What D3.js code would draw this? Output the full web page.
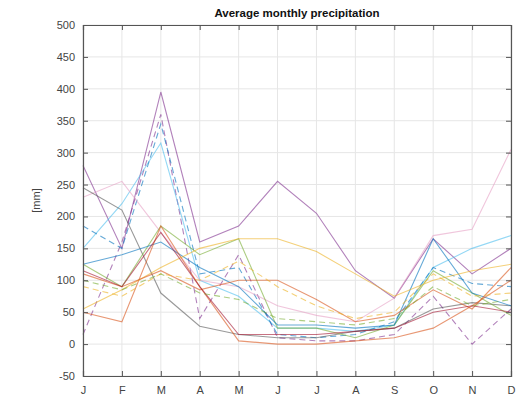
<!DOCTYPE html>
<html>
<head>
<meta charset="utf-8">
<script src="https://cdn.jsdelivr.net/npm/d3@7"></script>
<style>
body { margin: 0; background: #fff; }
svg text { font-family: "Liberation Sans", Arial, sans-serif; }
</style>
</head>
<body>
<script>
// month labels and the y ticks
var months = ["J", "F", "M", "A", "M", "J", "J", "A", "S", "O", "N", "D"];
var yTicks = [-50, 0, 50, 100, 150, 200, 250, 300, 350, 400, 450, 500];

// one array per station, values in mm
var s1 = [280, 150, 395, 160, 185, 255, 205, 115, 72, 165, 110, 150];
var s2 = [15, 160, 360, 40, 140, 10, 5, 5, 15, 75, 0, 55];
var s3 = [150, 220, 315, 100, 75, 25, 25, 20, 30, 120, 150, 170];
var s4 = [185, 150, 345, 110, 120, 15, 10, 15, 35, 120, 95, 90];
var s5 = [230, 255, 175, 100, 90, 60, 45, 35, 72, 170, 180, 305];
var s6 = [245, 210, 80, 28, 15, 10, 10, 20, 25, 55, 65, 60];
var s7 = [125, 90, 185, 140, 165, 25, 25, 10, 30, 115, 80, 45];
var s8 = [125, 140, 160, 120, 90, 30, 30, 25, 30, 165, 80, 60];
var s9 = [50, 35, 185, 90, 5, 0, 0, 5, 10, 25, 60, 100];
var s10 = [55, 85, 120, 150, 165, 165, 145, 110, 75, 100, 115, 125];
var s11 = [110, 90, 115, 85, 100, 100, 70, 35, 45, 85, 55, 120];
var s12 = [90, 75, 110, 100, 130, 90, 60, 40, 50, 110, 75, 80];
var s13 = [115, 90, 175, 90, 15, 15, 15, 20, 25, 50, 60, 50];
var s14 = [100, 85, 110, 80, 70, 40, 35, 30, 40, 90, 60, 70];

var series = [
	{v: s1, c: "#7E2F8E", dash: null},
	{v: s2, c: "#7E2F8E", dash: "6,4"},
	{v: s3, c: "#4DBEEE", dash: null},
	{v: s4, c: "#0072BD", dash: "6,4"},
	{v: s5, c: "#E6A0C4", dash: null},
	{v: s6, c: "#555555", dash: null},
	{v: s7, c: "#77AC30", dash: null},
	{v: s8, c: "#0072BD", dash: null},
	{v: s9, c: "#D95319", dash: null},
	{v: s10, c: "#EDB120", dash: null},
	{v: s11, c: "#D95319", dash: null},
	{v: s12, c: "#EDB120", dash: "6,4"},
	{v: s13, c: "#A2142F", dash: null},
	{v: s14, c: "#77AC30", dash: "6,4"}
];

var width = 526, height = 404;
var pLeft = 83, pRight = 511, pTop = 25, pBottom = 376;

var svg = d3.select("body").append("svg")
	.attr("width", width)
	.attr("height", height);

var x = d3.scalePoint().domain(d3.range(12)).range([pLeft, pRight]);
var y = d3.scaleLinear().domain([-50, 500]).range([pBottom, pTop]);

// grid
svg.append("g").selectAll("line").data(d3.range(12)).enter().append("line")
	.attr("x1", function(d){ return x(d); }).attr("x2", function(d){ return x(d); })
	.attr("y1", pTop).attr("y2", pBottom)
	.attr("stroke", "#e6e6e6").attr("stroke-width", 1);
svg.append("g").selectAll("line").data(yTicks).enter().append("line")
	.attr("x1", pLeft).attr("x2", pRight)
	.attr("y1", function(d){ return y(d); }).attr("y2", function(d){ return y(d); })
	.attr("stroke", "#e6e6e6").attr("stroke-width", 1);

// data lines
var line = d3.line()
	.x(function(d, i){ return x(i); })
	.y(function(d){ return y(d); });

svg.append("g").selectAll("path").data(series).enter().append("path")
	.attr("d", function(d){ return line(d.v); })
	.attr("fill", "none")
	.attr("stroke", function(d){ return d.c; })
	.attr("stroke-dasharray", function(d){ return d.dash; })
	.attr("stroke-width", 1.1)
	.attr("opacity", 0.6);

// axes, matlab style ticks pointing in
var ax = d3.axisBottom(x).tickFormat(function(i){ return months[i]; }).tickSize(-5).tickPadding(10);
var ay = d3.axisLeft(y).tickValues(yTicks).tickFormat(function(d){ return String(d); })
	.tickSize(-5).tickPadding(8);

svg.append("g").attr("transform", "translate(0," + pBottom + ")").call(ax);
svg.append("g").attr("transform", "translate(" + pLeft + ",0)").call(ay);
svg.append("g").attr("transform", "translate(0," + pTop + ")")
	.call(d3.axisTop(x).tickSize(-5).tickFormat(""));
svg.append("g").attr("transform", "translate(" + pRight + ",0)")
	.call(d3.axisRight(y).tickValues(yTicks).tickSize(-5).tickFormat(""));

svg.selectAll(".domain").attr("stroke", "#555").attr("stroke-width", 1.2);
svg.selectAll(".tick line").attr("stroke", "#555");
svg.selectAll(".tick text").attr("fill", "#444").style("font-size", "11px");

svg.append("text")
	.attr("x", (pLeft + pRight) / 2).attr("y", 17)
	.attr("text-anchor", "middle")
	.style("font-size", "11.5px").style("font-weight", "bold")
	.attr("fill", "#111")
	.text("Average monthly precipitation");

svg.append("text")
	.attr("transform", "translate(40," + ((pTop + pBottom) / 2) + ") rotate(-90)")
	.attr("text-anchor", "middle")
	.style("font-size", "11px")
	.attr("fill", "#444")
	.text("[mm]");
</script>
</body>
</html>
